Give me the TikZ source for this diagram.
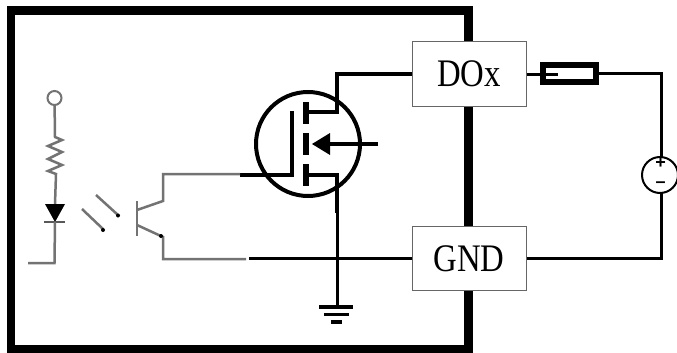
\documentclass[tikz,border=0pt]{standalone}
\usepackage{fontspec}
\usepackage{graphicx}
\setmainfont{Liberation Serif}
\newfontfamily\signfont{Liberation Sans}
\usetikzlibrary{calc}
\tikzset{
  x=1pt,y=-1pt,
  termbox/.style={draw=black!60,line width=1pt,fill=white,minimum width=114pt,minimum height=64pt,inner sep=0pt,font=\fontsize{39}{39}\selectfont},
  greyw/.style={draw=black!55,line width=2.5pt},
  thinw/.style={draw=black,line width=3pt},
  thickw/.style={draw=black,line width=5.5pt,line cap=butt},
  mos/.style={draw=black,line width=3.6pt},
  signtext/.style={inner sep=0pt,font=\fontsize{18}{18}\signfont\bfseries},
}
\begin{document}
\begin{tikzpicture}
\useasboundingbox (0,0) rectangle (677,353);
\fill[white] (0,0) rectangle (677,353);
% enclosure
\node[draw=black,line width=8.4pt,minimum width=457.5pt,minimum height=339pt,inner sep=0pt] (frame) at (239.75,180) {};
% terminals
\node[termbox] (dox) at (469,74) {\scalebox{0.84}[1]{DOx}};
\node[termbox] (gnd) at (469,258.5) {\scalebox{0.84}[1]{GND}};
% MOSFET
\node[draw=black,line width=4pt,circle,minimum size=104pt,inner sep=0pt] (q) at (308,144) {};
\coordinate (dr) at (306,112);
\coordinate (so) at (306,175);
\coordinate (bd) at (378,144);
\coordinate (tip) at (312,144);
\coordinate (gt) at (292,111);
\coordinate (gin) at (240,175);
\coordinate (sd) at (337,213);
\draw[thickw] (306,102) -- (306,124);
\draw[thickw] (306,133) -- (306,155);
\draw[thickw] (306,164) -- (306,186);
\draw[mos,line join=miter] (gin) -| (gt);
\draw[mos,line join=miter] (dr) -| (337,74) -- (dox.west);
\draw[mos,line join=miter] (so) -| (sd);
\draw[mos] (bd) -- (325,144);
\fill (tip) -- (330,133) -- (330,155) -- cycle;
% ground
\coordinate (g1) at (337,307);
\draw[thinw] (sd) -- (g1);
\draw[draw=black,line width=3.2pt] (319,307) -- (353,307);
\draw[draw=black,line width=3.2pt] (324,314.5) -- (349,314.5);
\draw[draw=black,line width=3.2pt] (331,322) -- (342,322);
\coordinate (gl) at (249,258.5);
\draw[thinw] (gl) -- (gnd.west);
% fuse
\node[draw=black,line width=6pt,fill=white,minimum width=53pt,minimum height=17pt,inner sep=0pt] (fuse) at (569.5,73.5) {};
\draw[thinw] (dox.east) -- (558,74);
% supply
\node[draw=black,line width=2pt,circle,minimum size=36pt,inner sep=0pt] (v) at (660,175) {};
\node[signtext] (vp) at (660.5,163.5) {+};
\node[signtext] (vm) at (660.5,185) {–};
\draw[thinw,line join=miter] (fuse.east) -- (661,73.5) -- (661,157);
\draw[thinw,line join=miter] (gnd.east) -- (661,258.5) -- (661,193);
% input side
\node[draw=black!55,line width=2pt,circle,minimum size=14pt,inner sep=0pt,fill=white] (a) at (54.5,98) {};
\coordinate (r1) at (55,137);
\coordinate (d1) at (55,204);
\coordinate (d2) at (55,222);
\coordinate (c1) at (54.5,263);
\coordinate (c2) at (28,263);
\draw[greyw] (a) -- (r1) -- (62,140) -- (48,146) -- (62,152) -- (48,159) -- (62,165) -- (48,171) -- (56,174) -- (d1);
\fill[black] (45,204) -- (65,204) -- (55,222) -- cycle;
\draw[draw=black!65,line width=2.4pt] (44,222) -- (65,222);
\draw[greyw,line join=miter] (d2) -- (c1) -- (c2);
% light arrows
\draw[greyw] (96,195) -- (118,215);
\fill[black] (118,215.5) circle (2);
\draw[greyw] (82,209) -- (103,229);
\fill[black] (103,230) circle (2);
% phototransistor
\draw[greyw] (137,201) -- (137,236);
\draw[greyw,line join=miter] (137,210) -- (163,201) -- (163,174) -- (240,174);
\draw[greyw,line join=miter] (137,225) -- (163,237) -- (163,259) -- (246,259);
\fill[black] (161,236) circle (2);
\end{tikzpicture}
\end{document}
